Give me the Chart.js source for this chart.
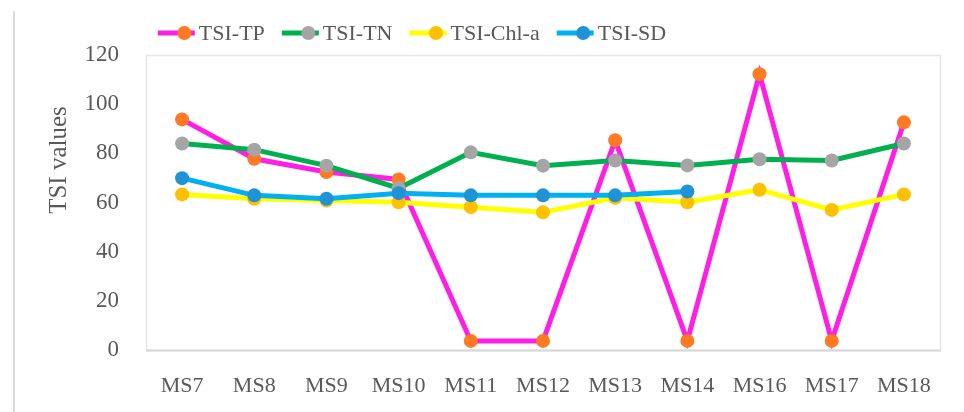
<!DOCTYPE html>
<html>
<head>
<meta charset="utf-8">
<title>TSI values by monitoring site</title>
<script src="https://cdn.jsdelivr.net/npm/chart.js@4.4.1/dist/chart.umd.min.js"></script>
<style>
  html, body { margin: 0; padding: 0; background: #ffffff; }
  canvas { display: block; }
</style>
</head>
<body>
<canvas id="chart" width="964" height="412"></canvas>
<script>
// Monitoring sites
const categories = ['MS7', 'MS8', 'MS9', 'MS10', 'MS11', 'MS12', 'MS13', 'MS14', 'MS16', 'MS17', 'MS18'];

// Trophic state index per parameter
const tsiTP  = [93.8, 77.8, 72.4, 69.4, 3.7, 3.7, 85.3, 3.7, 112.2, 3.7, 92.6];
const tsiTN  = [84.0, 81.5, 75.0, 65.8, 80.4, 75.0, 77.1, 75.1, 77.6, 77.1, 84.0];
const tsiChl = [63.3, 61.5, 60.8, 60.1, 58.1, 56.0, 61.9, 60.1, 65.2, 57.0, 63.3];
const tsiSD  = [69.9, 62.9, 61.5, 63.8, 62.9, 62.9, 62.9, 64.5, null, null, null];

// Axis ticks
const yTicks = [0, 20, 40, 60, 80, 100, 120];
const yTitle = 'TSI values';

const FONT = "'Liberation Serif', 'Times New Roman', serif";
const TEXT = '#595959';

function series(label, data, lineColor, markerColor, order) {
  return {
    label, data, order,
    borderColor: lineColor,
    backgroundColor: markerColor,
    borderWidth: 5,
    pointRadius: 7,
    pointHoverRadius: 7,
    pointBorderWidth: 0,
    pointBackgroundColor: markerColor,
    pointBorderColor: markerColor,
    tension: 0,
    spanGaps: false,
    fill: false
  };
}

// Frame around the plot area plus the thin rule at the left edge
const framePlugin = {
  id: 'frame',
  beforeDatasetsDraw(chart) {
    const { ctx, chartArea: a } = chart;
    ctx.save();
    ctx.strokeStyle = '#e6e6e6';
    ctx.lineWidth = 1.5;
    ctx.strokeRect(a.left + 0.5, a.top + 0.5, a.right - a.left, a.bottom - a.top);
    ctx.strokeStyle = '#d6d6d6';
    ctx.lineWidth = 2;
    ctx.beginPath();
    ctx.moveTo(a.left, a.bottom + 0.5);
    ctx.lineTo(a.right + 1, a.bottom + 0.5);
    ctx.stroke();
    ctx.strokeStyle = '#dadada';
    ctx.lineWidth = 2;
    ctx.beginPath();
    ctx.moveTo(14, 11);
    ctx.lineTo(14, chart.height);
    ctx.stroke();
    ctx.restore();
  }
};

// Legend with line + marker swatches, and the rotated axis title
const legendPlugin = {
  id: 'lineLegend',
  afterDraw(chart) {
    const { ctx } = chart;
    const sets = chart.data.datasets;
    ctx.save();
    ctx.font = '22px ' + FONT;
    ctx.textBaseline = 'middle';
    const swatch = 37, gapText = 4, gapItem = 17;
    const widths = sets.map(d => swatch + gapText + ctx.measureText(d.label).width);
    const total = widths.reduce((s, w) => s + w, 0) + gapItem * (sets.length - 1);
    let x = 412 - total / 2;
    const y = 33;
    sets.forEach((d, i) => {
      ctx.strokeStyle = d.borderColor;
      ctx.lineWidth = 5;
      ctx.beginPath();
      ctx.moveTo(x, y);
      ctx.lineTo(x + swatch, y);
      ctx.stroke();
      ctx.fillStyle = d.pointBackgroundColor;
      ctx.beginPath();
      ctx.arc(x + swatch / 2 + 8, y, 7, 0, Math.PI * 2);
      ctx.fill();
      ctx.fillStyle = TEXT;
      ctx.textAlign = 'left';
      ctx.fillText(d.label, x + swatch + gapText, y + 1);
      x += widths[i] + gapItem;
    });

    ctx.translate(59, 160);
    ctx.rotate(-Math.PI / 2);
    ctx.font = '25px ' + FONT;
    ctx.textAlign = 'center';
    ctx.textBaseline = 'middle';
    ctx.fillStyle = TEXT;
    ctx.fillText(yTitle, 0, 0);
    ctx.restore();
  }
};

new Chart(document.getElementById('chart'), {
  type: 'line',
  data: {
    labels: categories,
    datasets: [
      series('TSI-TP', tsiTP, '#ff1ee6', '#ff7a22', 4),
      series('TSI-TN', tsiTN, '#00b04f', '#a5a5a5', 3),
      series('TSI-Chl-a', tsiChl, '#ffff00', '#ffc000', 2),
      series('TSI-SD', tsiSD, '#00b0f0', '#1f93d6', 1)
    ]
  },
  options: {
    responsive: false,
    animation: false,
    layout: { padding: { left: 0, right: 24, top: 55, bottom: 0 } },
    plugins: {
      legend: { display: false },
      tooltip: { enabled: false },
      title: { display: false }
    },
    scales: {
      x: {
        offset: true,
        grid: { display: false, drawTicks: false },
        border: { display: false },
        ticks: {
          color: TEXT,
          font: { family: FONT, size: 22 },
          padding: 23,
          maxRotation: 0,
          autoSkip: false
        },
        afterFit(scale) { scale.height = 62; }
      },
      y: {
        min: 0,
        max: 120,
        afterBuildTicks(scale) { scale.ticks = yTicks.map(v => ({ value: v })); },
        grid: { display: false, drawTicks: false },
        border: { display: false },
        ticks: {
          color: TEXT,
          font: { family: FONT, size: 23 },
          padding: 27
        },
        afterFit(scale) { scale.width = 146; }
      }
    }
  },
  plugins: [framePlugin, legendPlugin]
});
</script>
</body>
</html>
